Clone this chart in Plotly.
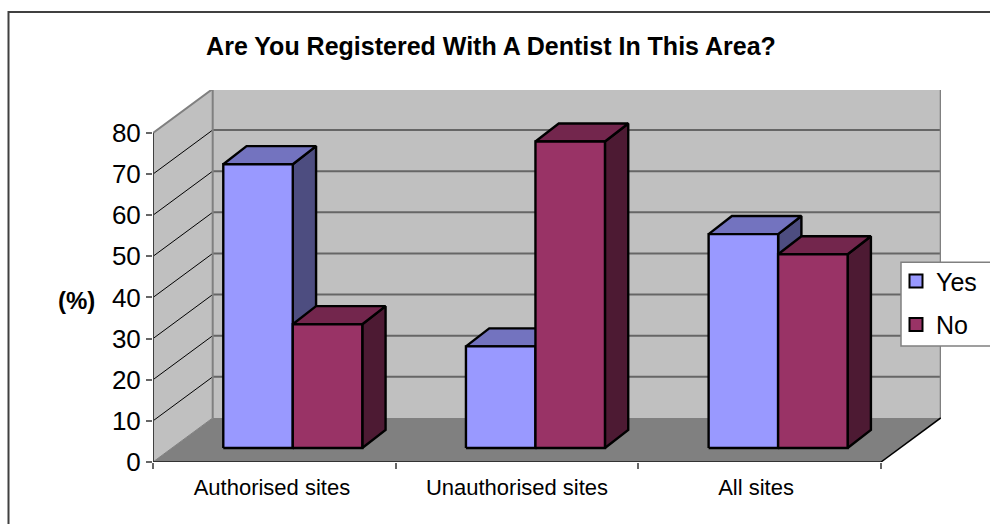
import plotly.graph_objects as go

categories = ["Authorised sites", "Unauthorised sites", "All sites"]
yes_values = [69.0, 24.7, 52.0]
no_values = [30.1, 74.5, 47.1]
y_ticks = [0, 10, 20, 30, 40, 50, 60, 70, 80]
series_names = ["Yes", "No"]

# pixel frame of the plotting area (front axis origin to back wall corner)
L, R, T, B = 153.0, 941.0, 90.0, 461.7
PX_PER_CAT = 242.67
PX_PER_UNIT = 4.11
DX = 59.7 / PX_PER_CAT   # depth shift, in category units
DY = 44.0 / PX_PER_UNIT  # depth shift, in value units
F0 = 0.318               # where the bars start in depth
FX, FY = 0.39, 0.41      # bars' depth span along x and y
GAP = 51.3 / PX_PER_CAT
BW = 69.5 / PX_PER_CAT
NCAT = len(categories)
YMAX = y_ticks[-1]

def px(x): return (x - L) / (R - L)
def py(y): return (B - y) / (B - T)

fig = go.Figure()

def poly(xs, ys, fill, line="#000000", w=2.4):
    fig.add_trace(go.Scatter(x=xs, y=ys, mode="lines", fill="toself", fillcolor=fill,
                             line=dict(color=line, width=w), showlegend=False, hoverinfo="skip"))

def seg(xs, ys, color, w):
    fig.add_trace(go.Scatter(x=xs, y=ys, mode="lines", line=dict(color=color, width=w),
                             showlegend=False, hoverinfo="skip"))

# walls and floor
poly([0, DX, DX, 0, 0], [0, DY, YMAX + DY, YMAX, 0], "#C0C0C0", "rgba(0,0,0,0)", 0)
poly([DX, NCAT + DX, NCAT + DX, DX, DX], [DY, DY, YMAX + DY, YMAX + DY, DY], "#C0C0C0", "rgba(0,0,0,0)", 0)
poly([0, NCAT, NCAT + DX, DX, 0], [0, 0, DY, DY, 0], "#808080", "rgba(0,0,0,0)", 0)

# gridlines
for t in y_ticks[1:-1]:
    seg([0, DX], [t, t + DY], "#000000", 1)
    seg([DX, NCAT + DX], [t + DY, t + DY], "#666666", 2)

# wall outlines
seg([0, DX, NCAT + DX, NCAT + DX], [YMAX, YMAX + DY, YMAX + DY, DY], "#808080", 2)
seg([DX, DX], [DY, YMAX + DY], "#808080", 2)
seg([0, DX], [0, DY], "#808080", 1)
seg([NCAT, NCAT + DX], [0, DY], "#000000", 1.5)
seg([0, 0], [0, YMAX], "#404040", 2)
seg([0, NCAT], [0, 0], "#333333", 2)

STYLES = [("#9999FF", "#7373BF", "#4D4D80"), ("#993366", "#73264D", "#4D1A33")]

def bar(i, s, value):
    front, top, side = STYLES[s]
    x0 = i + GAP + s * BW + F0 * DX
    x1 = x0 + BW
    b = F0 * DY
    h = b + value
    ddx = FX * DX
    ddy = FY * DY
    poly([x1, x1 + ddx, x1 + ddx, x1, x1], [b, b + ddy, h + ddy, h, b], side)
    poly([x0, x1, x1 + ddx, x0 + ddx, x0], [h, h, h + ddy, h + ddy, h], top)
    poly([x0, x1, x1, x0, x0], [b, b, h, h, b], front)

for i in range(NCAT):
    bar(i, 0, yes_values[i])
    bar(i, 1, no_values[i])

# legend entries
for name, st in zip(series_names, STYLES):
    fig.add_trace(go.Scatter(x=[None], y=[None], name=name, mode="markers", legendgroup=name,
                             marker=dict(symbol="square", size=13, color=st[0],
                                         line=dict(color="#000000", width=2))))

shapes = [
    dict(type="rect", xref="paper", yref="paper", x0=px(901), x1=px(1010), y0=py(345.7), y1=py(262),
         fillcolor="#FFFFFF", line=dict(color="#808080", width=1.5), layer="above"),
    dict(type="path", xref="paper", yref="paper",
         path=f"M {px(1010)} {py(12)} L {px(8.5)} {py(12)} L {px(8.5)} {py(540)}",
         line=dict(color="#404040", width=2), layer="above"),
]

annotations = [
    dict(text="<b>(%)</b>", x=px(76), y=py(300.5), xref="paper", yref="paper", showarrow=False,
         xanchor="center", yanchor="middle",
         font=dict(family="Liberation Sans", size=24, color="#000000")),
]

fig.update_layout(
    width=990, height=524,
    margin=dict(l=L, r=990 - R, t=T, b=524 - B, autoexpand=False, pad=0),
    paper_bgcolor="#FFFFFF", plot_bgcolor="#FFFFFF",
    font=dict(family="Liberation Sans", color="#000000"),
    title=dict(text="<b>Are You Registered With A Dentist In This Area?</b>",
               x=px(491), xref="paper", xanchor="center", y=1 - 46 / 524, yanchor="middle",
               font=dict(family="Liberation Sans", size=25, color="#000000")),
    xaxis=dict(range=[0, (R - L) / PX_PER_CAT], showgrid=False, zeroline=False, showline=False,
               tickmode="array", tickvals=[0.49, 1.5, 2.485], ticktext=categories, ticks="",
               tickfont=dict(size=22, family="Liberation Sans", color="#000000"),
               ticklabelstandoff=10,
               minor=dict(tickmode="array", tickvals=[0, 1, 2, 3], ticks="outside", ticklen=6,
                          tickwidth=1.5, tickcolor="#666666", showgrid=False)),
    yaxis=dict(range=[0, (B - T) / PX_PER_UNIT], showgrid=False, zeroline=False, showline=False,
               tickmode="array", tickvals=y_ticks, ticks="outside", ticklen=6, tickwidth=1.5,
               tickcolor="#666666",
               tickfont=dict(size=26, family="Liberation Sans", color="#000000")),
    legend=dict(x=px(896), xref="paper", xanchor="left", y=py(258), yanchor="top", yref="paper",
                bgcolor="rgba(0,0,0,0)", borderwidth=0, tracegroupgap=8,
                font=dict(size=25, family="Liberation Sans", color="#000000"), itemclick=False),
    shapes=shapes, annotations=annotations, showlegend=True,
)

fig.write_html("out.html", config={"displayModeBar": False},
               post_script="document.body.style.margin='0';document.body.style.overflow='hidden';")
